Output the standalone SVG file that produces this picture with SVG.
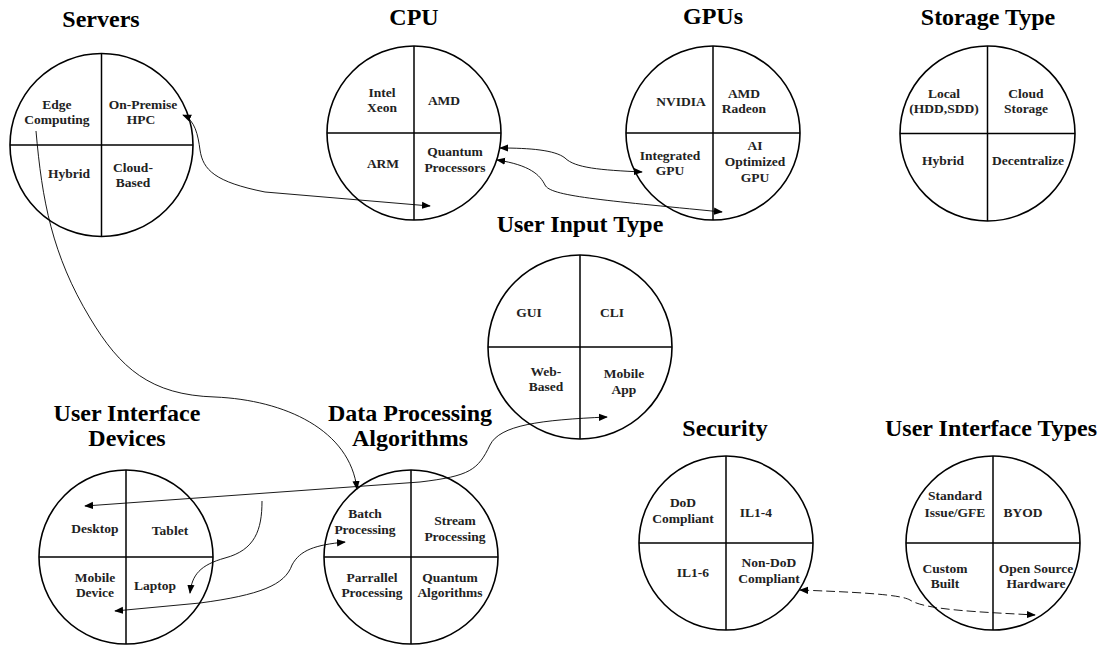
<svg xmlns="http://www.w3.org/2000/svg" width="1102" height="647" viewBox="0 0 1102 647">
<defs>
<style>
.c{fill:#fff;stroke:#000;stroke-width:1.6}
.d{stroke:#000;stroke-width:1.5}
.t{font-family:"Liberation Serif","Times New Roman",serif;font-weight:bold;font-size:24px;fill:#000;text-anchor:middle}
.l{font-family:"Liberation Serif","Times New Roman",serif;font-weight:bold;font-size:13.5px;fill:#222;text-anchor:middle}
.e{fill:none;stroke:#000;stroke-width:0.9}
.dash{stroke-dasharray:9,4}
</style>
<marker id="a" viewBox="0 0 10 10" refX="9" refY="5" markerWidth="9" markerHeight="9" markerUnits="userSpaceOnUse" orient="auto-start-reverse">
<path d="M0,1 L10,5 L0,9 Z" fill="#000"/>
</marker>
</defs>
<rect width="1102" height="647" fill="#fff"/>

<g id="servers">
<text class="t" x="101" y="27">Servers</text>
<circle class="c" cx="101.5" cy="145" r="91.5"/>
<line class="d" x1="101.5" y1="53.5" x2="101.5" y2="236.5"/>
<line class="d" x1="10" y1="145" x2="193" y2="145"/>
<text class="l" x="57" y="109">Edge</text><text class="l" x="57" y="124">Computing</text>
<text class="l" x="143" y="109">On-Premise</text><text class="l" x="141" y="124">HPC</text>
<text class="l" x="69" y="178">Hybrid</text>
<text class="l" x="133" y="172">Cloud-</text><text class="l" x="133" y="187">Based</text>
</g>

<g id="cpu">
<text class="t" x="414" y="25">CPU</text>
<circle class="c" cx="414" cy="133" r="87"/>
<line class="d" x1="414" y1="46" x2="414" y2="220"/>
<line class="d" x1="327" y1="133" x2="501" y2="133"/>
<text class="l" x="382" y="97">Intel</text><text class="l" x="382" y="112">Xeon</text>
<text class="l" x="444" y="105">AMD</text>
<text class="l" x="383" y="168">ARM</text>
<text class="l" x="455" y="156">Quantum</text><text class="l" x="455" y="172">Processors</text>
</g>

<g id="gpus">
<text class="t" x="713" y="24">GPUs</text>
<circle class="c" cx="713" cy="133" r="87"/>
<line class="d" x1="713" y1="46" x2="713" y2="220"/>
<line class="d" x1="626" y1="133" x2="800" y2="133"/>
<text class="l" x="681" y="106">NVIDIA</text>
<text class="l" x="744" y="98">AMD</text><text class="l" x="744" y="113">Radeon</text>
<text class="l" x="670" y="160">Integrated</text><text class="l" x="670" y="175">GPU</text>
<text class="l" x="755" y="150">AI</text><text class="l" x="755" y="166">Optimized</text><text class="l" x="755" y="182">GPU</text>
</g>

<g id="storage">
<text class="t" x="988" y="25">Storage Type</text>
<circle class="c" cx="987.5" cy="133.5" r="87.5"/>
<line class="d" x1="987.5" y1="46" x2="987.5" y2="221"/>
<line class="d" x1="900" y1="133.5" x2="1075" y2="133.5"/>
<text class="l" x="944" y="98">Local</text><text class="l" x="944" y="113">(HDD,SDD)</text>
<text class="l" x="1026" y="98">Cloud</text><text class="l" x="1026" y="113">Storage</text>
<text class="l" x="943" y="165">Hybrid</text>
<text class="l" x="1028" y="165">Decentralize</text>
</g>

<g id="user-input">
<text class="t" x="580" y="232">User Input Type</text>
<circle class="c" cx="580" cy="347" r="92"/>
<line class="d" x1="580" y1="255" x2="580" y2="439"/>
<line class="d" x1="488" y1="347" x2="672" y2="347"/>
<text class="l" x="529" y="317">GUI</text>
<text class="l" x="612" y="317">CLI</text>
<text class="l" x="546" y="376">Web-</text><text class="l" x="546" y="391">Based</text>
<text class="l" x="624" y="378">Mobile</text><text class="l" x="624" y="394">App</text>
</g>

<g id="ui-devices">
<text class="t" x="127" y="421">User Interface</text>
<text class="t" x="127" y="446">Devices</text>
<circle class="c" cx="126" cy="557" r="87"/>
<line class="d" x1="126" y1="470" x2="126" y2="644"/>
<line class="d" x1="39" y1="557" x2="213" y2="557"/>
<text class="l" x="95" y="533">Desktop</text>
<text class="l" x="170" y="535">Tablet</text>
<text class="l" x="95" y="582">Mobile</text><text class="l" x="95" y="597">Device</text>
<text class="l" x="155" y="590">Laptop</text>
</g>

<g id="data-processing">
<text class="t" x="410" y="421">Data Processing</text>
<text class="t" x="410" y="446">Algorithms</text>
<circle class="c" cx="411" cy="557" r="87"/>
<line class="d" x1="411" y1="470" x2="411" y2="644"/>
<line class="d" x1="324" y1="557" x2="498" y2="557"/>
<text class="l" x="365" y="518">Batch</text><text class="l" x="365" y="534">Processing</text>
<text class="l" x="455" y="525">Stream</text><text class="l" x="455" y="541">Processing</text>
<text class="l" x="372" y="582">Parrallel</text><text class="l" x="372" y="597">Processing</text>
<text class="l" x="450" y="582">Quantum</text><text class="l" x="450" y="597">Algorithms</text>
</g>

<g id="security">
<text class="t" x="725" y="436">Security</text>
<circle class="c" cx="726" cy="543" r="87"/>
<line class="d" x1="726" y1="456" x2="726" y2="630"/>
<line class="d" x1="639" y1="543" x2="813" y2="543"/>
<text class="l" x="683" y="507">DoD</text><text class="l" x="683" y="523">Compliant</text>
<text class="l" x="756" y="517">IL1-4</text>
<text class="l" x="693" y="577">IL1-6</text>
<text class="l" x="769" y="567">Non-DoD</text><text class="l" x="769" y="583">Compliant</text>
</g>

<g id="ui-types">
<text class="t" x="991" y="436">User Interface Types</text>
<circle class="c" cx="993" cy="543" r="87"/>
<line class="d" x1="993" y1="456" x2="993" y2="630"/>
<line class="d" x1="906" y1="543" x2="1080" y2="543"/>
<text class="l" x="955" y="500">Standard</text><text class="l" x="955" y="517">Issue/GFE</text>
<text class="l" x="1023" y="517">BYOD</text>
<text class="l" x="945" y="573">Custom</text><text class="l" x="945" y="588">Built</text>
<text class="l" x="1036" y="573">Open Source</text><text class="l" x="1036" y="588">Hardware</text>
</g>

<g id="connectors">
<path class="e" marker-start="url(#a)" marker-end="url(#a)" d="M183,115 C195,120 198,135 200,150 C203,170 215,182 265,192 L430,206"/>
<path class="e" marker-end="url(#a)" d="M36,131 C42,200 52,255 90,318 C120,368 150,395 215,397 C285,400 350,430 357,489"/>
<path class="e" marker-start="url(#a)" marker-end="url(#a)" d="M500,148 C530,148 555,150 565,158 C575,168 600,170 642,172"/>
<path class="e" marker-start="url(#a)" marker-end="url(#a)" d="M497,160 C530,165 540,175 545,185 C550,196 600,200 722,212"/>
<path class="e" marker-start="url(#a)" marker-end="url(#a)" d="M607,417 C540,420 500,425 490,445 C478,470 470,476 420,482 L85,506"/>
<path class="e" marker-end="url(#a)" d="M262,501 C262,530 255,550 225,558 C200,565 192,575 190,593"/>
<path class="e" marker-start="url(#a)" marker-end="url(#a)" d="M345,542 C315,545 300,550 292,565 C285,585 260,595 200,603 L115,611"/>
<path class="e dash" marker-start="url(#a)" marker-end="url(#a)" d="M800,590 C850,592 900,594 910,600 C925,610 980,612 1035,615"/>
</g>
</svg>
